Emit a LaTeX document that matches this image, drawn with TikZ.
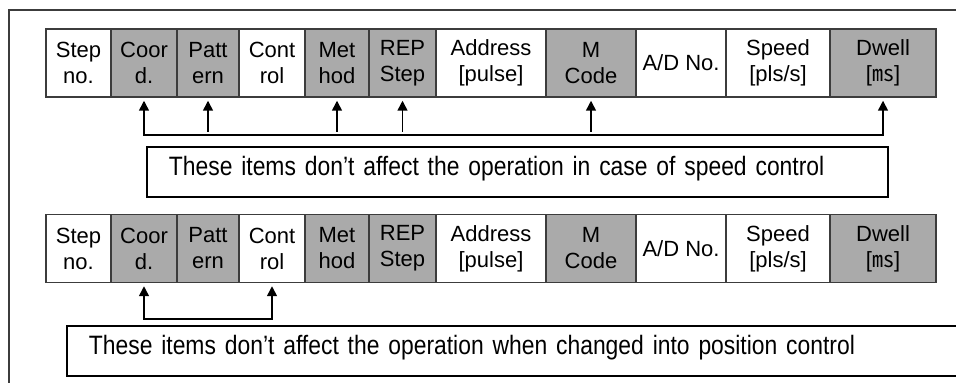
\documentclass[tikz,border=0pt]{standalone}
\usepackage{fontspec}
\setmainfont{Liberation Sans}
\newfontfamily\notefont[FakeStretch=0.86,WordSpace=0.75]{Liberation Sans}
\newfontfamily\cjk{Noto Sans CJK SC}
\usetikzlibrary{arrows.meta}
\definecolor{framegray}{RGB}{60,60,60}
\definecolor{cellgray}{RGB}{170,170,170}
\tikzset{
  cell/.style={draw=framegray, line width=0.75pt, inner sep=0pt, minimum height=34pt,
    align=center, font=\fontsize{11}{13}\selectfont, text=black},
  link/.style={line width=0.75pt, shorten >=1.5pt, shorten <=1.5pt},
  note/.style={draw=black, line width=0.9pt, inner xsep=11pt, inner ysep=0pt,
    text height=14.5pt, text depth=10.5pt, anchor=west, align=left,
    font=\notefont\fontsize{13.3}{15}\selectfont},
  >={Triangle[width=5pt,length=5pt]}
}
\begin{document}
\begin{tikzpicture}[x=0.5pt,y=-0.5pt]
  \useasboundingbox (0,0) rectangle (956,383);
  \clip (0,0) rectangle (956,383);
  \draw[framegray, line width=1pt] (9,10) rectangle (990,420);
  % the two rows of setting items
  \foreach \row/\y in {a/63,b/248.5}
    \foreach \i/\l/\r/\f/\t in {1/46/111/white/{Step\\no.}, 2/111/177/cellgray/{Coor\\d.},
        3/177/239/cellgray/{Patt\\ern}, 4/239/305/white/{Cont\\rol}, 5/305/369/cellgray/{Met\\hod},
        6/369/436/cellgray/{REP\\Step}, 7/436/546/white/{Address\\{[pulse]}}, 8/546/636/cellgray/{M\\Code},
        9/636/726/white/{A/D No.}, 10/726/830/white/{Speed\\{[pls/s]}}, 11/830/936/cellgray/{Dwell\\{[{\cjk ㎳}]}}}
      \node[cell, fill=\f, minimum width={(\r-\l)*0.5pt}] (\row\i) at ({(\l+\r)/2},\y) {\t};
  % speed control
  \coordinate (h1) at (0,135);
  \draw[link, <->] (a2.south) -- (a2.south |- h1) -- (a11.south |- h1) -- (a11.south);
  \foreach \c in {3,5,6,8}
    \draw[link, ->] (a\c.south |- h1) -- (a\c.south);
  \node[note, text width=348.5pt] (n1) at (146,172)
    {These items don’t affect the operation in case of speed control};
  % position control
  \coordinate (h2) at (0,319);
  \draw[link, <->] (b2.south) -- (b2.south |- h2) -- (b4.south |- h2) -- (b4.south);
  \node[note, text width=445pt] (n2) at (66,351)
    {These items don’t affect the operation when changed into position control};
\end{tikzpicture}
\end{document}
